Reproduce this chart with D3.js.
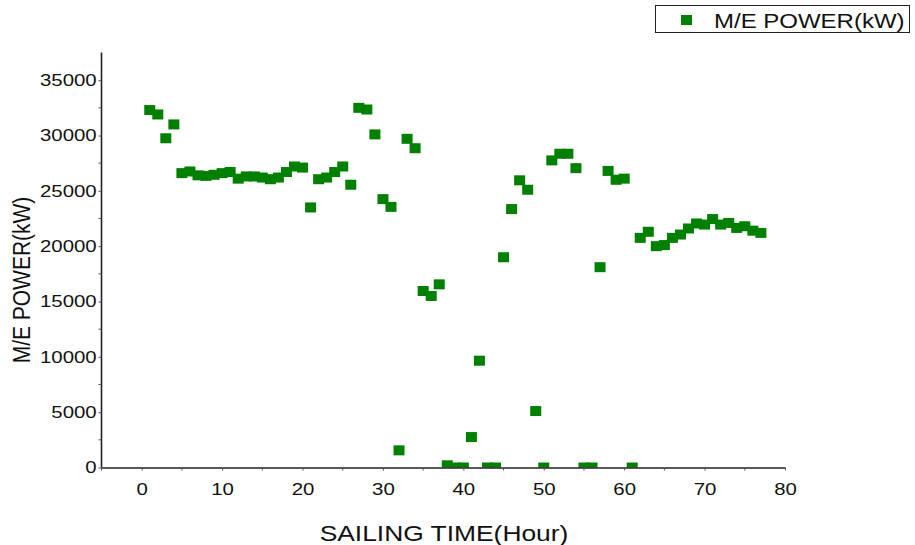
<!DOCTYPE html>
<html>
<head>
<meta charset="utf-8">
<script src="https://cdn.jsdelivr.net/npm/d3@7"></script>
<style>
    body { margin: 0; background: #fff; }
    svg { display: block; font-family: "Liberation Sans", Arial, sans-serif; }
</style>
</head>
<body>
<div id="plot_power"></div>
<script>
// sailing hour of each sample
const hours = [
    1, 2, 3, 4, 5, 6, 7, 8, 9, 10, 11, 12, 13, 14, 15, 16, 17, 18, 19, 20,
    21, 22, 23, 24, 25, 26, 27, 28, 29, 30, 31, 32, 33, 34, 35, 36, 37, 38, 39, 40,
    41, 42, 43, 44, 45, 46, 47, 48, 49, 50, 51, 52, 53, 54, 55, 56, 57, 58, 59, 60,
    61, 62, 63, 64, 65, 66, 67, 68, 69, 70, 71, 72, 73, 74, 75, 76, 77
];
// main engine power (kW)
const power = [
    32300, 31900, 29750, 31000, 26600, 26750, 26400, 26350, 26450, 26600,
    26700, 26100, 26300, 26300, 26200, 26050, 26200, 26700, 27200, 27100,
    23500, 26050, 26200, 26700, 27200, 25550, 32500, 32350, 30100, 24250,
    23550, 1550, 29700, 28850, 15950, 15500, 16550, 200, 0, 0,
    2750, 9650, 0, 0, 19000, 23350, 25950, 25100, 5100, 0,
    27750, 28350, 28350, 27050, 0, 0, 18100, 26800, 26000, 26100,
    0, 20750, 21300, 20000, 20100, 20750, 21050, 21600, 22050, 21950,
    22450, 21950, 22100, 21650, 21800, 21400, 21200
];
const xTicks = [0, 10, 20, 30, 40, 50, 60, 70, 80];
const yTicks = [0, 5000, 10000, 15000, 20000, 25000, 30000, 35000];
const seriesName = "M/E POWER(kW)";
const xTitle = "SAILING TIME(Hour)";
const yTitle = "M/E POWER(kW)";

const width = 915;
const height = 545;
const green = "#008000";
const stretch = 1.2; // the reference text is a bit wide

let svg = d3.select("#plot_power")
    .append("svg")
    .attr("width", width)
    .attr("height", height)
    .attr("viewBox", `0 0 ${width} ${height}`);

x = d3.scaleLinear()
    .domain([-5, 80])
    .range([101.5, 785]);

y = d3.scaleLinear()
    .domain([0, 37500])
    .range([467.5, 52.5]);

svg.append("clipPath")
    .attr("id", "plot_clip")
    .append("rect")
    .attr("x", 0)
    .attr("y", 0)
    .attr("width", width)
    .attr("height", y(0));

// points
svg.append("g")
    .attr("clip-path", "url(#plot_clip)")
    .attr("fill", green)
    .selectAll("rect")
    .data(hours.map((h, i) => [h, power[i]]))
    .join("rect")
    .attr("x", d => x(d[0]) - 5.5)
    .attr("y", d => y(d[1]) - 5)
    .attr("width", 11)
    .attr("height", 10);

// minor ticks
const yMinor = d3.range(2500, 37500, 5000);
const xMinor = d3.range(-5, 80, 10);

xAxis = g => g
    .attr("transform", `translate(0,${y(0)})`)
    .call(d3.axisBottom(x).tickValues(xTicks).tickFormat(d3.format("d"))
        .tickSize(3).tickPadding(12).tickSizeOuter(0))
    .attr("font-size", 17)
    .attr("font-family", null)
    .call(g => g.select(".domain").attr("stroke", "#222").attr("stroke-width", 1.6))
    .call(g => g.selectAll(".tick line").attr("stroke", "#555"))
    .call(g => g.selectAll(".tick text").attr("fill", "#111").attr("transform", `scale(${stretch},1)`))
    .call(g => g.selectAll(".minor")
        .data(xMinor)
        .join("line")
        .attr("class", "minor")
        .attr("x1", d => x(d))
        .attr("x2", d => x(d))
        .attr("y1", 0)
        .attr("y2", 3)
        .attr("stroke", "#555"));

yAxis = g => g
    .attr("transform", `translate(${x(-5)},0)`)
    .call(d3.axisLeft(y).tickValues(yTicks).tickFormat(d3.format("d"))
        .tickSize(3).tickPadding(1).tickSizeOuter(0))
    .attr("font-size", 17)
    .attr("font-family", null)
    .call(g => g.select(".domain").attr("stroke", "#222").attr("stroke-width", 1.6)
        .attr("d", `M0,${y(0)}V${y.range()[1]}`))
    .call(g => g.selectAll(".tick line").attr("stroke", "#555"))
    .call(g => g.selectAll(".tick text").attr("fill", "#111").attr("transform", `scale(${stretch},1)`))
    .call(g => g.selectAll(".minor")
        .data(yMinor)
        .join("line")
        .attr("class", "minor")
        .attr("y1", d => y(d))
        .attr("y2", d => y(d))
        .attr("x1", 0)
        .attr("x2", -3)
        .attr("stroke", "#555"));

svg.append("g")
    .call(xAxis);

svg.append("g")
    .call(yAxis);

// axis titles
svg.append("text")
    .attr("transform", `translate(444,541) scale(${stretch},1)`)
    .attr("text-anchor", "middle")
    .attr("font-size", 22)
    .attr("fill", "#111")
    .text(xTitle);

svg.append("text")
    .attr("transform", "translate(30,280) rotate(-90) scale(1,1.15)")
    .attr("text-anchor", "middle")
    .attr("font-size", 21)
    .attr("fill", "#111")
    .text(yTitle);

// legend
let legend = svg.append("g");
legend.append("rect")
    .attr("x", 655.5)
    .attr("y", 5.5)
    .attr("width", 254)
    .attr("height", 27)
    .attr("fill", "#fff")
    .attr("stroke", "#222")
    .attr("stroke-width", 1);
legend.append("rect")
    .attr("x", 681)
    .attr("y", 15)
    .attr("width", 11)
    .attr("height", 10)
    .attr("fill", green);
legend.append("text")
    .attr("transform", `translate(714,28) scale(${stretch},1)`)
    .attr("font-size", 20)
    .attr("fill", "#111")
    .text(seriesName);
</script>
</body>
</html>
